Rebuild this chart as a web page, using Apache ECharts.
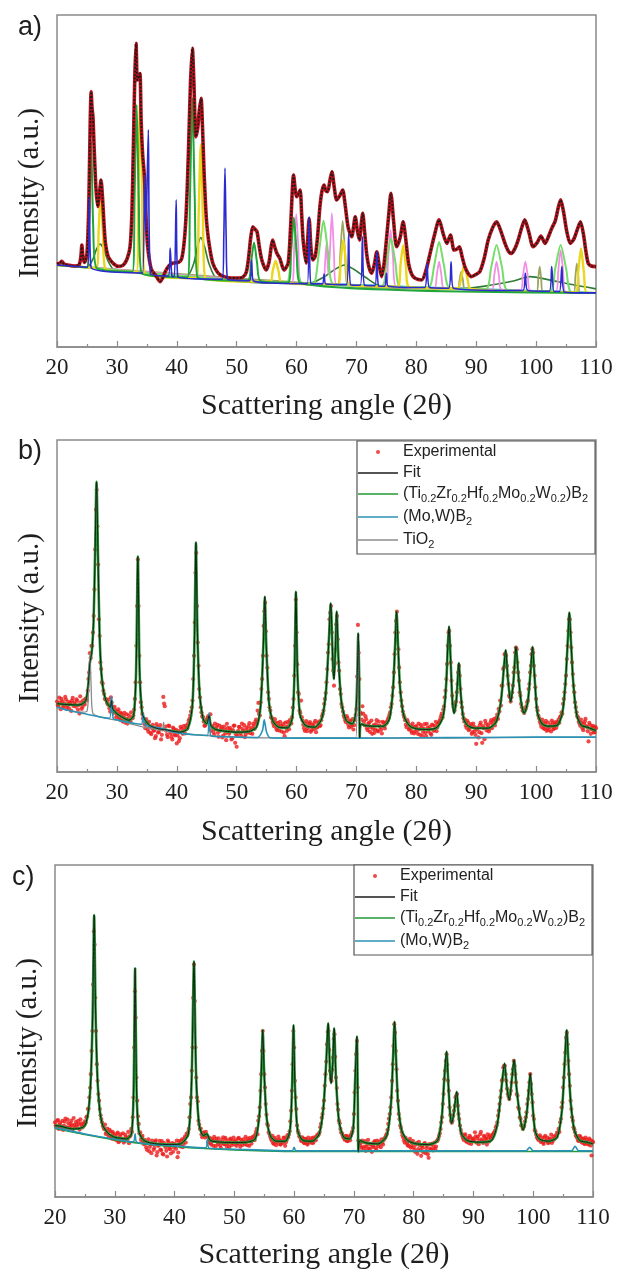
<!DOCTYPE html>
<html>
<head>
<meta charset="utf-8">
<title>XRD</title>
<style>
html,body{margin:0;padding:0;width:100%;height:100%;overflow:hidden;background:#fff;}
#main{width:619px;height:1273px;}
</style>
<script src="https://cdn.jsdelivr.net/npm/echarts@6/dist/echarts.min.js"></script>
</head>
<body>
<div id="main"></div>
<script type="text/javascript">
// x axis: scattering angle 2theta
var angleMin = 20, angleMax = 110, angleStep = 10;
var panelLabels = ['a)', 'b)', 'c)'];

// ---------- panel a ([2theta, intensity]) ----------
var fitA = [[20,25.0],[20.5,25.3],[20.8,25.8],[21.2,25.0],[22,24.6],[23,24.4],[23.7,24.8],[24.0,27.5],[24.15,30.7],[24.35,27],[24.6,25.5],
  [25.0,28],[25.3,42],[25.55,68],[25.7,76.9],[25.85,72],[26.0,69.4],[26.2,60],[26.5,48],[26.8,42.3],[27.1,46.5],[27.35,50.3],[27.6,45],
  [27.85,37],[28.1,31],[28.5,27.5],[28.9,26.2],[29.5,25],[30.2,24.3],[31,24.6],[31.7,26.5],[32.2,30.2],[32.5,40],[32.75,60],[33.0,82],
  [33.2,91.5],[33.4,80.4],[33.6,81],[33.85,82.4],[34.05,68],[34.3,58],[34.6,51.3],[34.85,40],[35.1,31],[35.45,26],[35.8,23.2],[36.5,21.5],
  [37.2,19.7],[37.7,21],[38.1,22.8],[38.7,24.5],[39.4,25.3],[40.3,25.5],[40.8,26.5],[41.2,31],[41.5,38],[41.75,48],[42.0,62],[42.3,80],
  [42.6,90],[42.85,80],[43.2,63.3],[43.5,66],[43.75,71],[44.05,74.9],[44.3,66],[44.55,53],[44.8,43],[45.0,37.3],[45.4,31],[46.0,25.3],
  [46.8,22.5],[47.5,21.5],[49,20.8],[50,20.8],[51,21],[51.6,22.5],[52.0,27],[52.35,33],[52.7,36.2],[53.05,35.5],[53.4,34.7],[53.8,30],
  [54.2,26.2],[54.9,23.2],[55.4,25.5],[55.75,30],[56.0,32.2],[56.3,30.5],[56.7,28.3],[57.2,26.7],[57.9,23.2],[58.6,25.3],[59.0,36],
  [59.5,51.8],[59.8,47],[60.0,45.3],[60.3,46],[60.6,47.3],[60.85,40],[61.1,32.2],[61.6,25.3],[61.85,32],[62.1,38.7],[62.4,30],[62.7,26.2],
  [63.1,27.2],[63.5,33],[63.9,42.3],[64.25,47],[64.6,48.8],[64.9,47],[65.2,46.8],[65.55,50],[65.9,52.8],[66.3,48],[66.7,44.3],[67.2,45.5],
  [67.7,47.3],[68.1,43],[68.6,36.2],[69.2,33.2],[69.8,39.2],[70.15,35],[70.5,32.2],[70.8,37],[71.05,40.3],[71.35,35],[71.7,28.2],[72.1,24],
  [72.55,22.2],[73.0,25],[73.4,28.7],[73.8,24.5],[74.2,21.2],[74.6,25],[75.0,32.2],[75.4,40],[75.75,46.3],[76.2,38],[76.7,30.2],[77.3,33],
  [77.8,37.7],[78.2,33],[78.7,25.2],[79.2,22],[79.8,20.7],[80.9,20.2],[81.6,23],[82.3,28.2],[83.0,33.5],[83.8,38.3],[84.5,34],[85.1,31.2],
  [85.7,33.7],[86.3,29.2],[86.8,29.5],[87.2,30.2],[87.6,27.5],[88.1,24.2],[88.6,22.3],[89.2,21.2],[89.9,21.8],[90.6,22.7],[91.3,26.5],
  [92.0,32.2],[92.7,35.8],[93.4,37.7],[94.1,35],[94.8,31.2],[95.4,28.8],[95.9,28.2],[96.5,29.8],[97.0,32.2],[97.6,36],[98.1,38.3],
  [98.8,34.5],[99.5,30.2],[100.2,31.5],[100.8,33.4],[101.5,31.2],[102.0,33],[102.6,35.7],[103.2,38],[103.7,42],[104.1,44.3],[104.6,40.5],
  [105.1,35],[105.7,31.2],[106.3,32.5],[106.9,35.5],[107.4,37.7],[107.9,34],[108.3,29],[108.7,25.2],[109.2,24.4],[110,24.2]];

var baseA = [[20,24.7],[30,23.2],[40,21.1],[50,20.2],[60,19.3],[70,18.7],[80,18.0],[90,17.5],[100,16.9],[110,16.3]];

var greenA = [[20,24.7],[25.0,24.0],[25.35,36],[25.7,62],[26.05,36],[26.6,23.8],[32.6,22.7],[32.95,45],[33.3,73],[33.65,45],[34.1,22.3],
  [41.8,21.0],[42.2,45],[42.6,75],[43.0,45],[43.5,20.8],[51.8,20.0],[52.4,25.5],[52.9,31.5],[53.4,25.5],[54.0,19.8],[58.6,19.4],
  [59.1,29],[59.55,39],[60.0,29],[60.6,19.3],[110,16.3]];

var lightGreenA = [[20,24.7],[58.3,19.4],[59.0,28],[59.5,38.8],[60.0,28],[60.8,19.3],[62.8,19.1],[63.7,28],[64.5,38],[65.3,28],[66.2,18.9],
  [74.2,18.4],[75.0,25.5],[75.75,32.7],[76.5,25.5],[77.3,18.2],[82.0,17.9],[83.0,24.7],[83.8,31.7],[84.6,24.7],[85.6,17.7],[91.6,17.4],
  [92.5,24],[93.4,30.7],[94.3,24],[95.2,17.2],[102.3,16.8],[103.2,23.7],[104.1,30.7],[105.0,23.7],[105.9,16.5],[110,16.3]];

var yellowA = [[20,24.7],[26.6,23.8],[26.95,35],[27.3,47],[27.65,35],[28.1,23.5],[33.3,22.6],[33.6,48],[33.9,75],[34.2,48],[34.6,22.2],
  [43.3,20.8],[43.65,40],[44.0,61],[44.35,40],[44.8,20.6],[55.6,19.7],[56.0,22.8],[56.5,26],[57.0,22.8],[57.5,19.5],[66.9,18.8],
  [67.35,25.5],[67.8,32.2],[68.25,25.5],[68.8,18.7],[76.9,18.2],[77.35,24.5],[77.8,30.7],[78.25,24.5],[78.8,18.1],[86.9,17.6],[87.5,21],
  [88.0,24.7],[88.5,21],[89.1,17.5],[106.6,16.5],[107.05,23],[107.5,29.7],[107.95,23],[108.4,16.4],[110,16.3]];

var blueA = [[20,24.7],[25.1,24.0],[25.4,45],[25.7,23.9],[34.3,22.3],[34.6,51.8],[34.85,35],[35.25,65.4],[35.6,22.1],
  [38.6,21.4],[38.9,29.8],[39.2,21.3],[39.6,21.2],[39.9,44.3],[40.2,21.1],[47.6,20.4],[47.85,33],[48.05,53.9],[48.25,33],[48.5,20.4],
  [52.2,20.0],[52.5,26.2],[52.8,19.9],[61.8,19.1],[62.1,39.2],[62.4,19.1],[64.3,19.0],[64.6,22],[64.9,19.0],[68.35,18.8],[68.7,34.2],
  [69.05,18.7],[70.65,18.6],[71.0,33.2],[71.35,18.6],[73.1,18.5],[73.4,28.7],[73.7,18.4],[74.7,18.3],[75.0,22.2],[75.3,18.3],
  [81.4,17.9],[81.8,25.2],[82.2,17.9],[85.4,17.7],[85.8,25.7],[86.2,17.7],[97.8,17.0],[98.2,22.2],[98.6,17.0],[102.2,16.8],[102.6,24.2],
  [103.0,16.7],[103.9,16.7],[104.3,24.2],[104.7,16.6],[110,16.3]];

var pinkA = [[20,24.7],[59.2,19.3],[59.6,30],[59.95,40],[60.3,30],[60.7,19.3],[64.5,19.0],[64.75,25],[65.0,31.2],[65.3,22],[65.55,28],
  [65.9,40.3],[66.25,28],[66.6,18.9],[74.8,18.3],[75.3,27],[75.7,35.2],[76.1,27],[76.6,18.2],[83.0,17.8],[83.4,21.5],[83.8,25.7],
  [84.2,21.5],[84.6,17.8],[92.6,17.3],[93.0,21.5],[93.4,25.7],[93.8,21.5],[94.2,17.3],[97.4,17.1],[97.8,21.5],[98.2,25.7],[98.6,21.5],
  [99.0,17.0],[103.3,16.7],[103.7,23],[104.1,29.2],[104.5,23],[104.9,16.6],[110,16.3]];

var oliveA = [[20,24.7],[66.9,18.8],[67.3,28],[67.7,38],[68.1,28],[68.5,18.8],[86.9,17.6],[87.2,20],[87.5,22.7],[87.8,20],[88.1,17.6],
  [100.1,16.9],[100.35,20.5],[100.6,24.2],[100.85,20.5],[101.1,16.8],[106.3,16.5],[106.55,21],[106.8,25.2],[107.05,21],[107.3,16.5],[110,16.3]];

var darkGreenA = [[20,24.7],[25.0,24.0],[26.0,26.5],[26.6,29.5],[27.2,31],[27.8,29.5],[28.5,26],[29.5,23.4],[41.5,21.0],[42.8,25],
  [43.5,30.5],[44.0,33],[44.6,30.5],[45.4,25],[46.8,20.5],[62,19.1],[64.5,21],[66.5,23.5],[68.0,24.7],[69.5,23.5],[71.5,21],[74,18.4],
  [88,17.6],[92,18.5],[96,19.8],[99,21.2],[102,20.3],[106,18.8],[110,17.5]];

// ---------- panels b and c: experimental points ----------
// expB / expC: 20..110 every 0.25 deg; expB2 / expC2: 20.125..109.875 every 0.25 deg
var expStart = 20, expStart2 = 20.125, expStep = 0.25;
var expB = [
  21.2,19.8,20.9,22.0,19.5,20.6,21.8,20.1,19.2,20.8,21.5,19.9,20.4,21.9,18.8,17.6,21.0,19.6,20.7,22.1,
  21.5,28,35.8,38,42,55,79,74,46,33,27,24.5,22,21.5,20.3,19.2,22.5,19.5,17.8,18.6,
  17.2,18.9,15.8,17.5,15.2,17.8,16.0,14.6,17.1,15.3,16.4,17.0,22,38,64,35,21,17.5,15.8,13.2,
  14.8,12.1,13.6,11.4,14.2,12.6,10.8,13.5,12.0,14.1,11.2,22.6,19.8,12.4,10.5,13.8,11.6,9.8,12.9,11.0,
  8.6,12.3,10.2,13.0,11.5,12.8,14.0,13.2,15.5,17.0,19.5,28,45,66,39,25,19.5,16.8,15.2,14.0,
  15.6,16.8,14.2,12.5,13.8,11.2,12.9,14.2,10.6,12.4,13.5,11.0,12.8,9.6,13.2,11.5,12.6,10.2,13.9,8.8,
  7.6,12.4,13.5,10.8,12.9,14.1,11.3,12.6,13.8,11.7,13.2,14.5,13.0,15.8,18.5,17.5,21,28,44,51,
  35,24,19.5,16.5,15.2,13.8,14.9,12.6,13.9,15.1,12.2,14.4,10.8,13.6,15.0,12.9,14.8,16.5,22,38,
  42,24,18.5,21.5,15.5,13.2,14.6,12.3,13.8,15.0,12.6,13.9,14.8,12.0,13.6,15.2,14.1,16.8,18.5,22,
  27,36,46,50,34,26,37,47,33,25,20.5,18.2,16.4,15.0,16.2,13.4,15.5,14.2,12.8,15.6,
  19,44.3,28,17.5,19.8,15.2,16.8,13.2,14.6,12.1,15.5,13.0,11.8,14.4,12.5,15.2,13.4,11.6,14.8,13.1,
  14.6,15.8,17.2,19.5,23,30,42,48.3,37,27,21.5,18.2,16.5,14.2,15.6,12.8,14.0,11.8,13.6,12.2,
  13.8,11.5,12.9,14.2,10.9,13.1,11.8,14.5,12.2,13.6,11.2,14.0,12.8,15.1,13.4,14.8,15.9,17.6,18.8,22.5,
  28,38,42.5,33,23,19.5,20,24,30,29,21,17.5,15.2,14.0,15.4,12.6,13.8,11.5,14.6,12.3,
  8.5,13.4,12.0,14.9,8.8,13.2,15.4,12.5,14.1,13.0,15.6,14.4,16.0,15.2,17.3,19.0,21.5,26,31,35.5,
  35,29,23,21.2,24,30,36,37,30,24,20.5,18.5,17.8,19.0,21,25,30,35.5,36,29,
  22,18.5,16.2,14.5,15.8,13.2,14.6,12.4,14.9,13.5,12.2,14.8,13.1,15.0,14.2,15.8,16.5,18.0,20.5,24,
  29,38,46,42,33,26,21,18.0,16.4,14.6,15.8,13.2,14.5,16.0,13.6,9.2,14.2,12.8,13.9,12.0,
  13.2];

var expB2 = [
  20.2,22.4,18.9,21.3,20.0,22.6,19.3,21.1,20.5,18.4,22.3,20.9,19.7,21.4,20.1,22.8,19.0,21.6,20.3,21.9,
  24.5,30,34.3,38,47,67,85,62.5,41,31,26.6,23.5,22,20.8,21.8,18.2,21.0,18.4,19.6,16.4,
  18.2,16.3,17.9,15.5,16.8,14.9,17.4,16.1,15.0,18.0,16.2,18.8,27,50,50,27,19.5,16.2,14.4,15.9,
  12.9,15.1,11.8,13.2,12.4,10.2,14.4,11.9,13.0,9.8,12.8,20.6,13.7,11.2,14.0,12.2,10.6,13.4,11.3,12.7,
  11.0,9.3,13.6,11.9,13.8,11.6,13.0,14.5,16.0,18.2,21.5,35,60,50,32,22.5,18.0,16.5,13.9,15.0,
  16.2,15.0,17.4,13.6,12.0,14.6,13.3,11.8,14.0,12.9,10.4,13.7,11.6,14.5,12.1,13.3,9.8,12.6,14.0,11.4,
  10.9,13.6,11.7,14.6,12.3,10.5,13.3,12.0,14.7,12.8,11.5,13.9,15.2,14.6,20.8,17.0,25,35,48.4,42.4,
  31.4,22,18.5,16.2,14.5,15.9,13.1,14.8,12.5,14.0,13.5,11.9,14.9,12.4,13.8,15.6,14.6,19.4,29,51.9,
  32.4,23.5,17.8,16.5,14.2,12.4,15.3,13.2,14.6,12.1,14.2,12.9,15.4,13.3,14.7,13.8,15.6,17.5,20.5,23.8,
  31,38.5,48,42,30.5,32.5,44.5,40,30.5,23.5,19.5,17.0,15.6,16.8,14.2,15.1,13.6,15.9,14.1,17.2,
  28.8,35.9,18.0,15.8,17.6,14.1,15.9,12.6,14.9,13.5,11.5,14.1,12.8,15.6,12.2,14.0,12.7,15.1,13.8,14.9,
  15.2,16.4,18.0,20.5,25.5,35.5,45.5,42,31.5,24,19.8,17.2,15.6,13.5,14.8,13.0,12.4,14.6,11.6,13.5,
  12.6,14.6,11.2,13.5,12.1,14.4,10.8,13.3,12.9,11.6,14.3,12.4,13.9,12.3,14.5,15.3,16.8,16.4,19.8,24.5,
  32.5,42,38,27.5,20.5,18.5,21.2,26.5,32,25,19.5,16.2,15.8,13.3,14.9,13.0,14.4,12.0,13.7,11.2,
  12.9,10.4,14.2,11.7,13.8,9.9,14.6,13.5,12.2,14.9,13.2,15.5,14.0,16.4,16.0,18.2,20.0,26,31.5,35.5,
  32,26.5,22.5,22.5,26,31.5,37.5,33,27.5,23,19.5,18.3,18.5,19.8,21.5,26.5,32,37,32,25.5,
  19.5,17.0,15.2,13.6,14.9,13.0,15.4,13.1,12.6,14.1,15.5,12.9,14.5,13.3,15.0,14.8,16.8,17.5,22.0,26.5,
  34,42.5,46,37.5,29.5,24,19.5,16.8,15.2,13.9,14.8,12.6,15.2,13.8,12.3,14.8,11.5,13.5,11.9,13.6];

var expC = [
  22.5,21.0,23.2,21.8,20.6,22.9,21.4,23.6,20.9,22.2,21.1,23.0,20.4,21.7,22.6,20.8,21.9,23.4,21.2,22.0,
  22.8,24,26.5,30,37,50,80,60,40,31,26.5,23.5,21.5,20.4,19.0,20.6,18.2,19.8,17.6,19.2,
  18.5,17.1,19.4,16.8,18.9,17.5,16.4,18.7,17.8,19.6,18.2,20.5,24,45,54,29,22,19.5,18.0,16.6,
  17.2,15.0,16.4,13.8,15.9,17.0,14.2,16.6,12.5,15.4,16.9,14.1,13.0,16.2,15.0,12.2,16.5,14.4,15.8,13.6,
  16.0,14.5,12.0,16.8,15.2,17.4,16.0,18.2,19.0,19.5,24,30,45,70,45,30,23,20.5,18.8,19.2,
  18.6,19.6,18.2,17.0,16.2,17.5,15.4,16.8,17.6,15.9,16.6,14.8,17.2,16.0,17.8,15.2,16.4,17.3,15.6,16.9,
  15.8,17.1,16.2,17.8,15.1,16.6,17.4,15.9,16.8,17.6,15.4,16.9,17.2,18.0,18.8,20.5,23,27,37,50,
  37,28,22,19.5,18.2,17.0,16.2,17.8,15.6,16.9,17.4,15.8,16.6,17.9,15.4,17.2,18.0,19.8,26,40,
  45,30,21.5,19.2,18.0,16.8,17.6,16.2,17.4,15.8,17.0,16.4,17.8,16.6,17.5,18.2,18.5,19.5,22,25,
  29,37,46,50,38,35,42,49,36,28,23,20.5,19.2,18.0,17.2,18.4,16.9,17.8,18.6,19.8,
  25,38,47,17.0,16.2,14.8,16.6,15.2,13.9,16.0,14.6,15.8,13.6,15.4,16.8,14.2,15.9,16.6,15.0,16.4,
  17.2,17.9,19.0,22,25,30,40,52,44,32,25,21.5,19.6,18.0,16.4,17.2,15.6,16.8,14.9,16.2,
  15.0,13.6,16.2,14.4,15.6,12.4,14.8,16.0,13.2,15.4,11.8,14.6,15.8,14.0,16.4,15.2,17.0,18.4,20.5,24,
  31,38,43,35,27,23,23,26,30,31,25,21.5,19.2,17.8,18.6,16.9,17.8,16.2,18.0,16.8,
  17.6,19.5,16.4,18.2,17.0,19.6,16.8,18.4,17.2,15.8,17.9,18.6,17.5,18.8,19.5,21,22.5,26,30,35,
  39,39.5,35,31,29.5,32,37,41,37,31,27,24,21.5,20.5,21.5,24,28,32,37,31,
  24.5,20.2,18.8,17.6,18.2,16.6,17.8,16.0,18.4,17.0,16.2,17.6,18.8,16.8,17.5,18.6,19.4,20.5,22.5,27,
  33,40,48,46,37,29,24,21,19.5,18.2,17.0,18.4,16.8,17.6,16.2,17.9,16.6,15.8,17.2,12.5,
  16.5];

var expC2 = [
  21.6,23.0,20.5,22.4,21.3,20.2,22.7,21.0,23.3,20.7,22.1,21.5,23.8,20.9,21.8,22.9,20.3,22.2,21.0,21.7,
  22.4,24.3,26.6,32.9,44,64,76,50,35,29,24.6,22.5,20.9,21.8,19.5,18.9,20.2,18.3,19.6,17.4,
  17.8,19.0,16.5,18.3,17.2,19.2,16.9,18.1,17.3,16.2,18.5,19.6,30,62,36,24.3,19.2,17.2,18.4,15.9,
  16.3,14.2,17.4,15.1,13.2,16.0,14.8,17.1,13.5,15.7,14.3,16.8,12.8,15.6,13.9,17.0,14.7,13.1,16.2,14.9,
  15.5,17.0,13.4,15.9,16.8,15.0,17.6,16.4,18.5,20.5,28,38,60,59,36,28.8,21.8,20.6,18.0,19.5,
  17.9,18.6,16.5,17.8,15.8,16.9,18.1,15.3,16.7,17.7,15.5,16.4,18.0,15.9,17.2,16.1,15.0,17.6,16.3,17.9,
  16.6,15.4,17.6,16.0,17.2,15.7,16.5,18.1,15.6,16.9,17.8,16.1,18.2,17.1,19.6,18.9,24.3,32,44,44,
  33,24.8,21.5,19.0,17.6,18.4,16.0,17.3,16.6,18.2,15.9,17.0,16.3,17.8,16.5,18.6,18.8,22.8,32,50,
  35,26.5,19.9,18.3,17.2,18.0,16.4,17.5,16.1,17.9,16.7,17.3,16.2,18.0,17.1,18.7,18.9,21.0,23.9,26.7,
  33.5,40.8,49.7,44.3,35.7,38.3,47.6,42.2,32.8,26.3,22.2,19.5,18.6,17.6,18.3,16.8,18.2,17.1,19.1,20.8,
  31.5,43,33,16.2,15.4,17.0,14.6,16.8,15.1,17.2,14.4,16.1,15.0,16.5,14.8,17.0,15.3,16.1,17.4,15.8,
  17.6,18.5,20.2,23.6,27,35,45.5,49.5,38.5,29,23.5,20.8,18.6,17.1,17.9,16.2,15.4,17.5,15.2,16.9,
  14.2,15.8,13.0,16.6,14.1,15.3,13.5,16.2,14.7,12.9,15.9,14.3,16.1,15.0,14.4,16.8,17.6,19.2,22.5,28,
  35.5,41,39.8,32,24.7,22.4,24.5,27.5,30.5,27.5,23.5,20.2,18.4,17.2,18.9,16.6,17.4,18.4,16.0,17.3,
  16.9,18.3,17.7,15.9,18.9,17.4,16.3,18.1,17.6,18.9,16.7,17.8,18.2,19.2,20.0,21.5,24.5,28,32,35.5,
  39.5,37,32.6,30.3,31,34.5,38.5,39.5,34.5,30.5,26.5,23.5,21.5,21.0,22.8,25.5,29.5,34.5,34,28.5,
  23.5,19.7,18.0,17.2,18.6,17.0,16.4,18.0,16.9,17.9,16.5,17.4,16.3,18.2,17.6,18.1,19.3,19.6,23.5,28.5,
  36,43.5,49.5,41,33.5,26.5,23,20.4,18.5,17.8,16.9,18.1,16.4,17.5,15.9,17.3,16.0,17.6,15.5,16.8];

var fitB = [[20,20.6],[21,20.4],[22,20.3],[23,20.2],[24,20.3],[24.8,21.5],[25.2,26],[25.5,33],[25.8,36],[26.1,45],[26.35,65],[26.6,87.4],
  [26.85,65],[27.1,42],[27.4,30],[27.8,24],[28.3,21],[28.9,19.5],[29.1,21.5],[29.3,19],[30,17.6],[31,16.4],[32,15.6],[32.8,17],[33.2,30],
  [33.5,64.9],[33.8,30],[34.2,18],[34.6,16],[35.5,14],[37,13],[38,12.8],[39,12.4],[40.5,12],[41.8,13],[42.6,20],[42.95,40],[43.2,69.1],
  [43.45,42],[43.8,24],[44.4,16],[45.0,14.5],[45.4,17],[45.7,14],[46.5,12.8],[48,12.3],[50,12],[52,12.2],[53.3,13.5],[54.0,20],[54.45,38],
  [54.7,52.8],[54.95,38],[55.4,21],[56,15.5],[57,13.5],[58.5,13.3],[59.3,16.5],[59.65,30],[59.9,54.3],[60.15,30],[60.6,17],[61.5,14],
  [63,13.5],[64.2,16],[64.9,24],[65.35,38],[65.7,50.8],[66.1,31],[66.25,28],[66.45,35],[66.7,48.3],[67.0,34],[67.5,21],[68.3,15.5],
  [69.3,14.5],[69.9,18],[70.15,30],[70.3,41.8],[70.45,30],[70.55,10.3],[70.65,10.3],[70.75,14.5],[71.5,14],[73,13.8],[74.5,13.8],[75.5,16],
  [76.1,25],[76.45,38],[76.7,48.3],[76.95,38],[77.3,25],[77.9,17],[78.8,14],[80,13],[82,12.8],[83.5,13.5],[84.5,17],[85.0,27],[85.25,38],
  [85.45,43.8],[85.7,35],[86.0,22],[86.3,17.7],[86.7,22],[87.1,32.8],[87.4,24],[87.9,16],[88.7,13.8],[90,13.2],[92,13.2],[93.3,15],
  [94.1,21],[94.6,31],[94.9,36.7],[95.3,28],[95.75,21.2],[96.2,27],[96.65,37.7],[97.0,30],[97.5,21],[98,17.7],[98.6,21],[99.1,31],
  [99.4,37.7],[99.7,30],[100.2,18],[101,14.5],[102,13.8],[103.5,14],[104.4,18],[104.9,27],[105.3,40],[105.55,48],[105.8,40],[106.2,27],
  [106.8,17],[107.6,14],[108.5,13.5],[110,12.5]];

var moWB = [[20,19.6],[22,18.5],[25,17.4],[28,16.3],[28.8,16.2],[29.1,22.7],[29.4,16],[30,15.7],[33,14.6],[34.1,14.4],[34.4,17.5],
  [34.7,14.2],[37,13.3],[40,11.8],[43,11.2],[45.1,11],[45.4,17.8],[45.7,10.9],[48,10.6],[53.5,10.4],[54.3,12.5],[54.6,15.7],[55,12],
  [55.6,10.3],[60,10.2],[70,10.2],[80,10.3],[90,10.4],[100,10.5],[110,10.5]];

var tiO2B = [[20,19.4],[24,18.0],[25.0,18.3],[25.3,26],[25.5,35.8],[25.7,26],[26,17.6],[30,15.6],[37.5,12.6],[37.8,15],[38.1,12.4],
  [45,11.0],[55,10.3],[69.9,10.3],[70.1,25],[70.3,41.8],[70.5,25],[70.7,10.2],[80,10.2],[90,10.3],[100,10.4],[110,10.4]];

var fitC = [[20,21.5],[21,21.3],[22,20.8],[23,20.5],[24,20.6],[25,21.5],[25.6,26],[26.0,36],[26.3,55],[26.55,84.9],[26.8,55],[27.1,36],
  [27.5,26],[28,21.5],[29,19],[30,18],[31,17.7],[32,17.5],[32.8,19],[33.15,32],[33.4,68.9],[33.65,32],[34,20],[34.6,17.5],[35.5,16.5],
  [37,16],[39,15.8],[41,16],[42.3,19],[42.85,35],[43.25,70.9],[43.6,37],[44.1,22],[44.8,18.5],[45.4,19],[46,17],[48,16.5],[50,16.4],
  [52,16.5],[53.5,17.5],[54.2,25],[54.5,37],[54.75,50.3],[55.0,37],[55.4,24],[56,18.5],[57,16.8],[58.5,16.8],[59.3,20],[59.65,33],
  [59.9,51.8],[60.15,33],[60.6,20],[61.5,17],[63,16.8],[64.2,19],[64.9,27],[65.35,40],[65.7,52.3],[66.0,38],[66.2,34.3],[66.45,40],
  [66.7,50.8],[67.0,36],[67.5,23],[68.3,18],[69.3,17.5],[69.9,21],[70.2,35],[70.5,48.3],[70.65,30],[70.75,13.7],[70.85,13.7],[71,17],
  [72,16.3],[74,16],[75.5,18.5],[76.2,28],[76.55,42],[76.8,52.8],[77.05,42],[77.4,28],[78,20],[79,17],[80.5,16],[82.5,15.8],[84,17],
  [84.7,24],[85.1,35],[85.5,43.8],[85.8,34],[86.1,25],[86.35,22.2],[86.7,25],[87.2,31.7],[87.5,25],[88,19],[89,17],[91,16.5],[93,17],
  [94,22],[94.7,33],[95.2,40.2],[95.6,33],[96.0,29.2],[96.4,35],[96.8,41.3],[97.2,33],[97.8,24],[98.3,20.2],[98.9,25],[99.2,31],
  [99.5,37.2],[99.8,30],[100.3,20],[101,17.5],[102.5,16.8],[104,18],[104.8,26],[105.25,40],[105.6,50.3],[105.9,40],[106.3,28],[106.9,20],
  [107.8,17],[109,16.5],[110,16]];

var bgC = [[20,20.7],[25,18.8],[30,17.2],[35,16],[40,15.2],[45,14.6],[50,14.2],[55,13.9],[60,13.7],[110,13.7]];

var moWC = [[20,20.9],[25,19.0],[30,17.4],[33.1,16.6],[33.4,19],[33.7,16.5],[40,15.4],[45.2,14.8],[45.5,17.4],[45.8,14.7],[50,14.4],
  [59.7,13.9],[60,15],[60.3,13.9],[70,13.9],[98.8,13.9],[99.4,15],[100,13.9],[106.4,13.9],[107,15.3],[107.6,13.9],[110,13.9]];

// ---------- chart ----------
var chart = echarts.init(document.getElementById('main'));
var serif = 'Liberation Serif', sans = 'Liberation Sans';
var heb = '(Ti0.2Zr0.2Hf0.2Mo0.2W0.2)B2';
var legendText = {
  'Experimental': '{n|Experimental}',
  'Fit': '{n|Fit}',
  '(Mo,W)B2': '{n|(Mo,W)B}{s|2}',
  'TiO2': '{n|TiO}{s|2}'
};
legendText[heb] = '{n|(Ti}{s|0.2}{n|Zr}{s|0.2}{n|Hf}{s|0.2}{n|Mo}{s|0.2}{n|W}{s|0.2}{n|)B}{s|2}';

var grids = [
  {left: 57, right: 23, top: 15, height: 332},
  {left: 57, right: 23, top: 440, height: 332},
  {left: 55, right: 26, top: 865, height: 332}
];
var nameGaps = [44, 45, 43];

function ln(g, name, data, color, width, extra) {
  var s = {
    type: 'line', name: name, xAxisIndex: g, yAxisIndex: g, data: data,
    symbol: 'none', showSymbol: false, smooth: 0.25, silent: true,
    lineStyle: {color: color, width: width}, itemStyle: {color: color}
  };
  if (extra) for (var k in extra) s[k] = extra[k];
  return s;
}
function expPts(arr, start) {
  return arr.map(function (v, i) { return [start + i * expStep, v]; });
}

var series = [
  ln(0, 'a-base', baseA, '#2ec4d6', 2),
  ln(0, 'a-dkgreen', darkGreenA, '#2f7d34', 1.6),
  ln(0, 'a-olive', oliveA, '#9ca462', 1.8),
  ln(0, 'a-pink', pinkA, '#f28ee6', 1.8),
  ln(0, 'a-lgreen', lightGreenA, '#76dc6a', 2),
  ln(0, 'a-yellow', yellowA, '#ead61c', 2.4),
  ln(0, 'a-green', greenA, '#21a63a', 2),
  ln(0, 'a-fit', fitA, '#b5121b', 3.6),
  ln(0, 'a-exp', fitA, '#1a1a1a', 1.6, {lineStyle: {color: '#1a1a1a', width: 1.7, type: [2, 1.6]}}),
  ln(0, 'a-blue', blueA, '#2b2bd0', 1.6),

  {type: 'scatter', name: 'Experimental', xAxisIndex: 1, yAxisIndex: 1,
    data: expPts(expB, expStart).concat(expPts(expB2, expStart2)),
    symbolSize: 4.2, itemStyle: {color: '#ec1c1c'}, silent: true},
  ln(1, heb, fitB, '#239a33', 2.6),
  ln(1, 'TiO2', tiO2B, '#8c8c8c', 1.3),
  ln(1, '(Mo,W)B2', moWB, '#2a92b4', 1.6),
  ln(1, 'Fit', fitB, '#1b1b1b', 1),

  {type: 'scatter', name: 'Experimental', xAxisIndex: 2, yAxisIndex: 2,
    data: expPts(expC, expStart).concat(expPts(expC2, expStart2)),
    symbolSize: 4.2, itemStyle: {color: '#ec1c1c'}, silent: true},
  ln(2, 'c-bg', bgC, '#239a33', 1.6),
  ln(2, heb, fitC, '#239a33', 2.6),
  ln(2, '(Mo,W)B2', moWC, '#2a92b4', 1.6),
  ln(2, 'Fit', fitC, '#1b1b1b', 1)
];

var xAxes = [], yAxes = [];
for (var i = 0; i < 3; i++) {
  xAxes.push({
    gridIndex: i, type: 'value', min: angleMin, max: angleMax, interval: angleStep,
    name: 'Scattering angle (2\u03b8)', nameLocation: 'middle', nameGap: nameGaps[i],
    nameTextStyle: {fontFamily: serif, fontSize: 30, color: '#1e1e1e'},
    axisLine: {lineStyle: {color: '#8a8a8a', width: 1.5}},
    axisTick: {inside: true, length: 6, lineStyle: {color: '#8a8a8a', width: 1.2}},
    minorTick: {show: true, splitNumber: 2, length: 3, lineStyle: {color: '#8a8a8a', width: 1.2}},
    axisLabel: {fontFamily: serif, fontSize: 23, color: '#1e1e1e', margin: 9},
    splitLine: {show: false}
  });
  yAxes.push({
    gridIndex: i, type: 'value', min: 0, max: 100,
    name: 'Intensity (a.u.)', nameLocation: 'middle', nameGap: 12, nameRotate: 90,
    nameTextStyle: {fontFamily: serif, fontSize: 29, color: '#1e1e1e', padding: [0, 24, 0, 0]},
    axisLine: {show: false}, axisTick: {show: false}, axisLabel: {show: false}, splitLine: {show: false}
  });
}
grids.forEach(function (g) { g.show = true; g.borderColor = '#8a8a8a'; g.borderWidth = 1.5; });

var dotIcon = 'path://M0,0M40,14M18,7a2,2 0 1,0 4,0a2,2 0 1,0 -4,0z';
var lineIcon = 'path://M0,0M40,14M0,6.2L40,6.2L40,7.8L0,7.8z';
function legendFor(top, left, names) {
  return {
    orient: 'vertical', left: left, top: top, padding: [3, 7, 4, 1], itemGap: 5,
    itemWidth: 40, itemHeight: 14, backgroundColor: '#fff',
    borderColor: '#555', borderWidth: 1.2, borderRadius: 0, selectedMode: false,
    data: names.map(function (n) { return {name: n, icon: n === 'Experimental' ? dotIcon : lineIcon}; }),
    formatter: function (n) { return legendText[n]; },
    textStyle: {
      color: '#222', fontFamily: sans, fontSize: 16,
      rich: {
        n: {fontFamily: sans, fontSize: 16, lineHeight: 20, color: '#222'},
        s: {fontFamily: sans, fontSize: 11, lineHeight: 11, verticalAlign: 'bottom', color: '#222'}
      }
    }
  };
}

chart.setOption({
  animation: false,
  backgroundColor: '#fff',
  grid: grids,
  xAxis: xAxes,
  yAxis: yAxes,
  legend: [
    legendFor(441, 357, ['Experimental', 'Fit', heb, '(Mo,W)B2', 'TiO2']),
    legendFor(865, 354, ['Experimental', 'Fit', heb, '(Mo,W)B2'])
  ],
  graphic: [
    {type: 'text', left: 18, top: 14, style: {text: panelLabels[0], font: '27px "Liberation Sans"', fill: '#1e1e1e'}},
    {type: 'text', left: 18, top: 438, style: {text: panelLabels[1], font: '27px "Liberation Sans"', fill: '#1e1e1e'}},
    {type: 'text', left: 12, top: 864, style: {text: panelLabels[2], font: '27px "Liberation Sans"', fill: '#1e1e1e'}}
  ],
  series: series
});
</script>
</body>
</html>
